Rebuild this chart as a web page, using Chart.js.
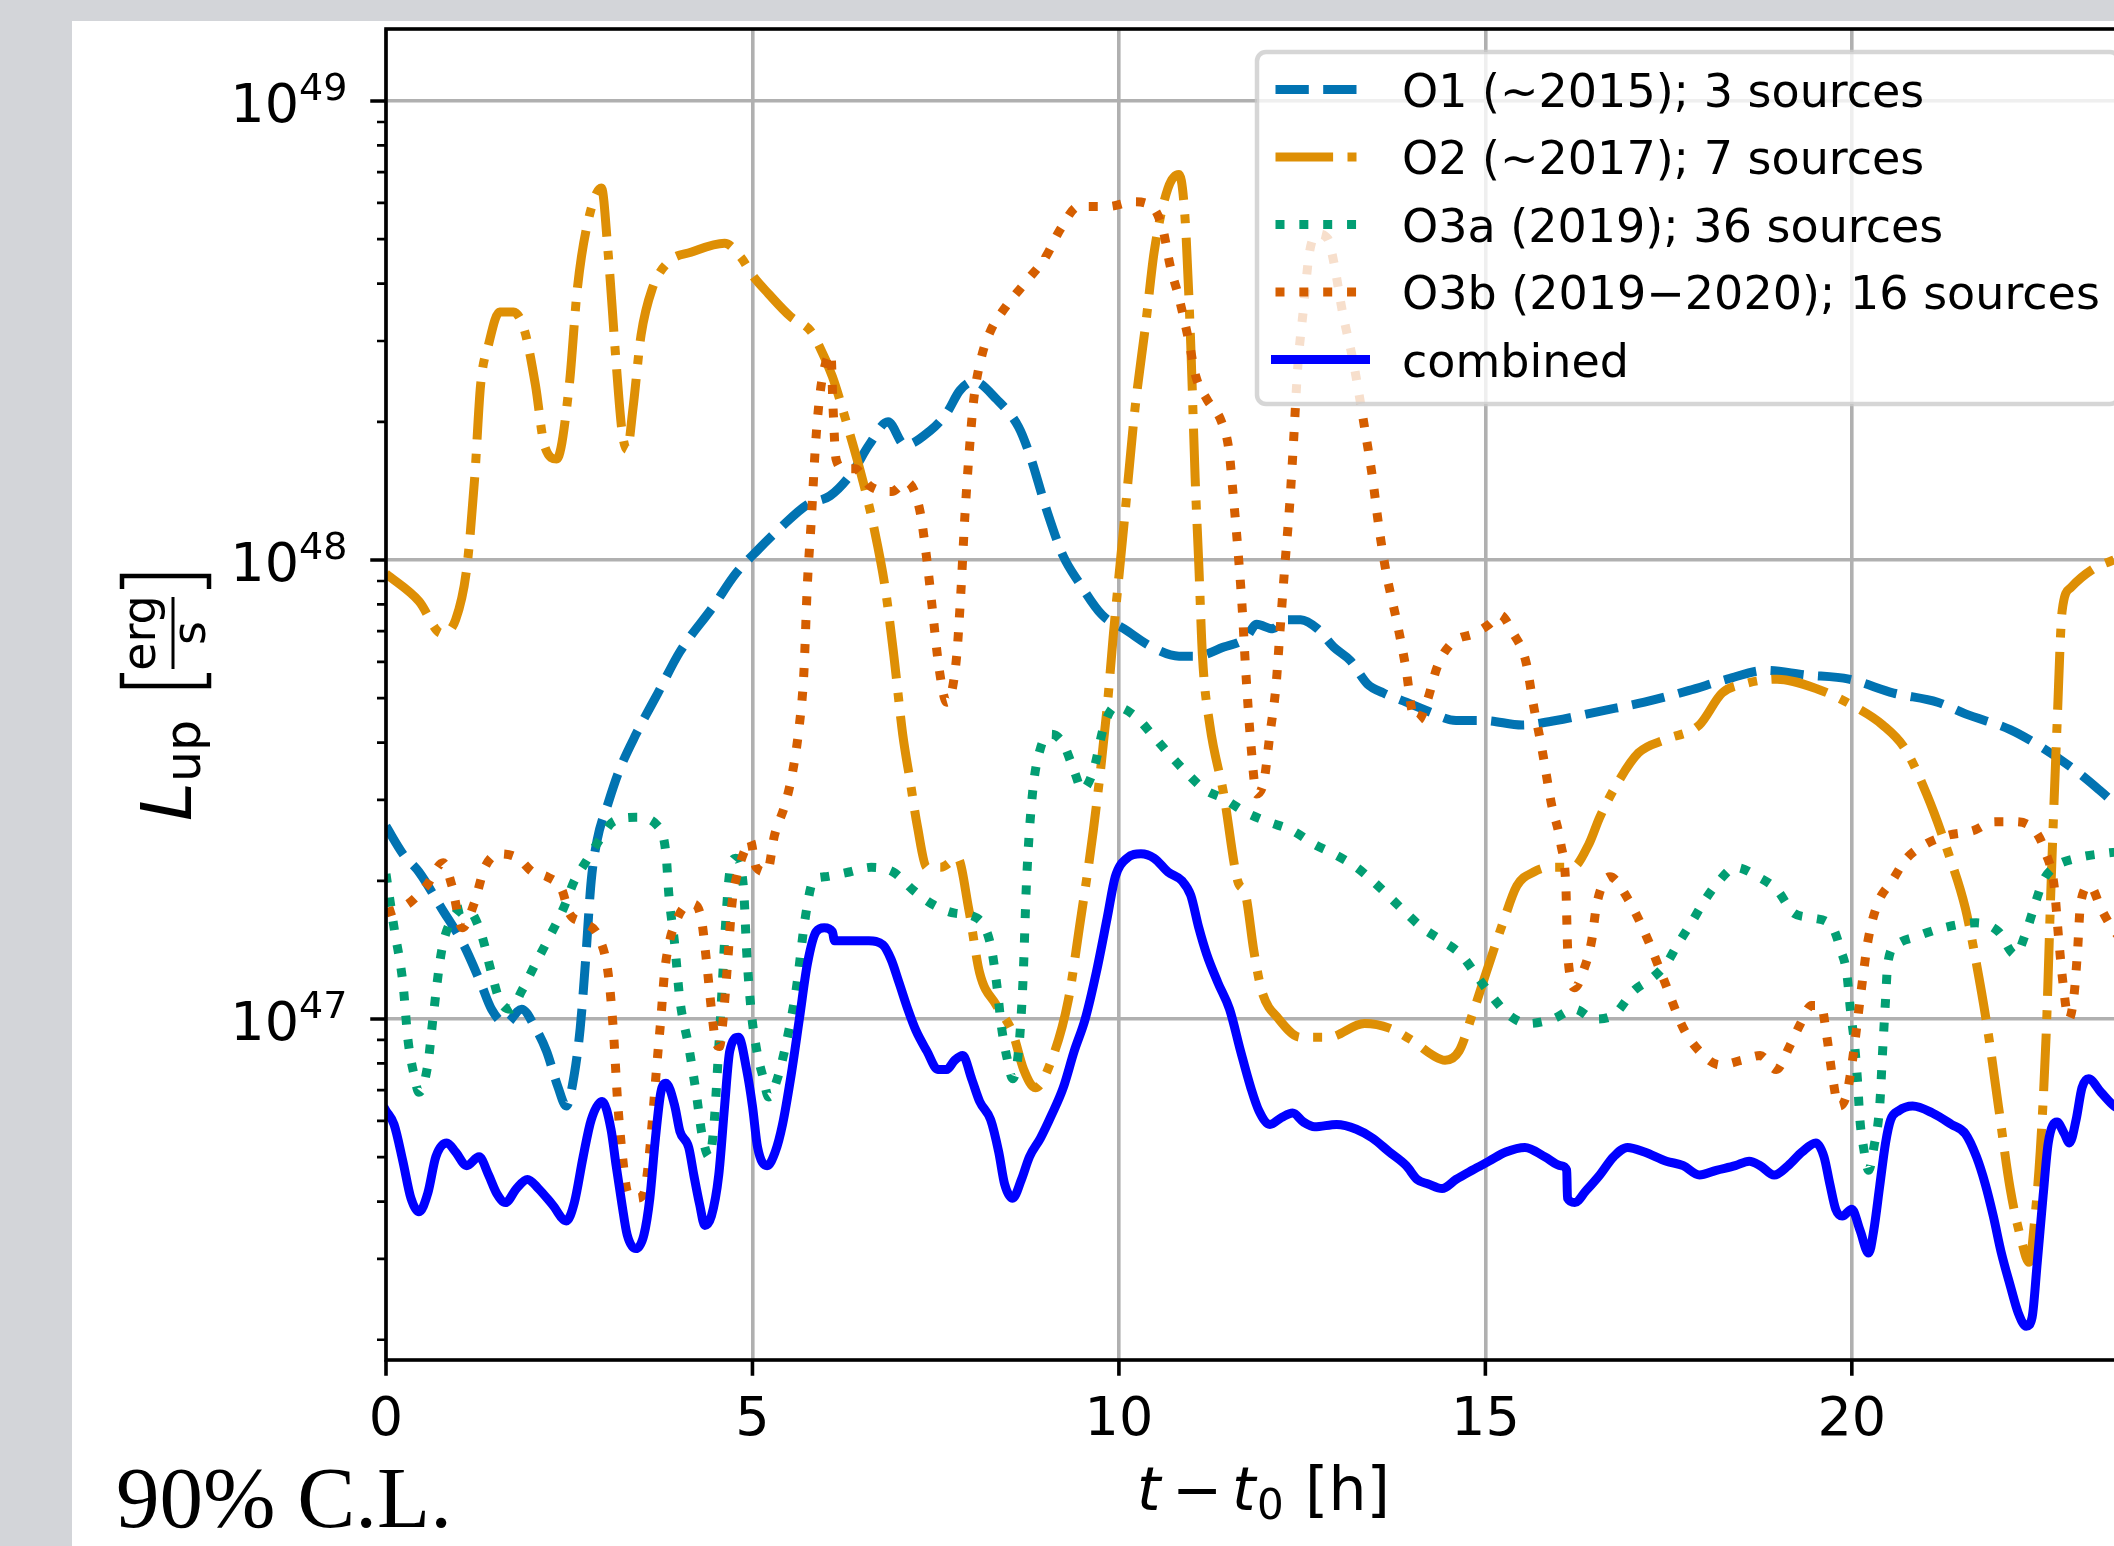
<!DOCTYPE html>
<html><head><meta charset="utf-8">
<script src="https://cdn.jsdelivr.net/npm/chart.js@4.4.1/dist/chart.umd.min.js"></script>
<style>
html,body{margin:0;padding:0;width:2114px;height:1546px;overflow:hidden;background:#d3d5d9;}
#fig{position:absolute;left:72px;top:21px;width:2200px;height:1600px;background:#ffffff;}
#c{position:absolute;left:0;top:0;}
</style></head><body>
<div id="fig"></div>
<canvas id="c" width="2200" height="1546"></canvas>
<script>
// ---------------- data (hours since t0, L_up in erg/s) ----------------
const seriesLabels = ['O1 (~2015); 3 sources','O2 (~2017); 7 sources','O3a (2019); 36 sources','O3b (2019\u22122020); 16 sources','combined'];
const xTickValues = [0,5,10,15,20];
const yMajorExponents = [47,48,49];
const yMinorMantissas = [2,3,4,5,6,7,8,9];

const o1Points = [[0,2.63e47],[0.23,2.29e47],[0.45,2.09e47],[0.76,1.74e47],[1.06,1.45e47],[1.29,1.20e47],[1.44,1.05e47],[1.63,9.77e46],[1.85,1.05e47],[2.04,9.55e46],[2.19,8.51e46],[2.35,7.08e46],[2.46,6.46e46],[2.57,7.59e46],[2.65,9.55e46],[2.72,1.32e47],[2.80,2.00e47],[2.88,2.45e47],[3.03,2.95e47],[3.18,3.47e47],[3.41,4.17e47],[3.71,5.13e47],[4.01,6.31e47],[4.47,7.94e47],[4.77,9.33e47],[5.07,1.05e48],[5.37,1.17e48],[5.75,1.32e48],[6.06,1.38e48],[6.36,1.55e48],[6.59,1.78e48],[6.85,2.00e48],[7.08,1.78e48],[7.42,1.91e48],[7.65,2.09e48],[7.83,2.34e48],[8.02,2.45e48],[8.33,2.24e48],[8.63,1.95e48],[8.78,1.70e48],[9.01,1.29e48],[9.24,1.02e48],[9.46,8.91e47],[9.77,7.59e47],[10.07,7.08e47],[10.45,6.46e47],[10.82,6.17e47],[11.05,6.17e47],[11.43,6.46e47],[11.73,6.76e47],[11.88,7.24e47],[12.10,7.08e47],[12.25,7.41e47],[12.48,7.41e47],[12.71,7.08e47],[12.93,6.46e47],[13.16,6.03e47],[13.39,5.37e47],[13.61,5.13e47],[13.92,4.90e47],[14.22,4.68e47],[14.60,4.47e47],[14.98,4.47e47],[15.50,4.37e47],[15.96,4.47e47],[16.56,4.68e47],[17.17,4.90e47],[17.77,5.19e47],[18.30,5.50e47],[18.83,5.75e47],[19.36,5.62e47],[19.96,5.50e47],[20.57,5.13e47],[21.17,4.90e47],[21.55,4.62e47],[22.16,4.27e47],[22.61,3.89e47],[23.06,3.47e47],[23.37,3.16e47],[23.58,2.95e47],[24,2.51e47]];

const o2Points = [[0,9.33e47],[0.45,8.13e47],[0.76,6.92e47],[0.95,7.41e47],[1.10,9.55e47],[1.21,1.51e48],[1.29,2.40e48],[1.40,2.95e48],[1.55,3.47e48],[1.74,3.47e48],[1.89,3.16e48],[2.04,2.40e48],[2.16,1.78e48],[2.33,1.66e48],[2.50,2.40e48],[2.61,3.89e48],[2.76,5.50e48],[2.94,6.46e48],[3.03,4.68e48],[3.14,2.69e48],[3.22,1.91e48],[3.29,1.74e48],[3.37,2.14e48],[3.48,3.09e48],[3.63,3.89e48],[3.86,4.47e48],[4.16,4.68e48],[4.62,4.90e48],[4.84,4.57e48],[5.00,4.17e48],[5.22,3.80e48],[5.52,3.39e48],[5.79,3.16e48],[5.90,2.95e48],[6.09,2.51e48],[6.28,2.00e48],[6.51,1.48e48],[6.66,1.17e48],[6.81,8.71e47],[6.93,6.17e47],[7.05,4.17e47],[7.15,3.31e47],[7.25,2.63e47],[7.38,2.14e47],[7.57,2.14e47],[7.80,2.24e47],[7.95,1.74e47],[8.10,1.26e47],[8.33,1.07e47],[8.55,9.33e46],[8.70,7.76e46],[8.86,7.08e46],[9.08,8.13e46],[9.31,1.10e47],[9.46,1.58e47],[9.65,2.57e47],[9.84,4.79e47],[9.92,6.76e47],[10.07,1.20e48],[10.22,2.14e48],[10.37,3.31e48],[10.48,4.68e48],[10.67,6.46e48],[10.82,6.92e48],[10.90,5.62e48],[10.98,2.95e48],[11.04,1.51e48],[11.09,9.77e47],[11.14,6.17e47],[11.24,4.37e47],[11.43,3.09e47],[11.62,2.00e47],[11.73,1.86e47],[11.84,1.41e47],[11.95,1.15e47],[12.18,1.00e47],[12.48,9.12e46],[12.86,9.12e46],[13.35,9.77e46],[13.69,9.55e46],[13.99,9.0e46],[14.29,8.32e46],[14.45,8.13e46],[14.64,8.51e46],[14.82,1.02e47],[15.01,1.26e47],[15.24,1.62e47],[15.43,1.95e47],[15.66,2.09e47],[15.88,2.14e47],[16.19,2.14e47],[16.41,2.40e47],[16.56,2.75e47],[16.79,3.24e47],[17.09,3.80e47],[17.47,4.07e47],[17.92,4.37e47],[18.23,5.13e47],[18.53,5.37e47],[18.98,5.50e47],[19.51,5.25e47],[20.04,4.79e47],[20.42,4.37e47],[20.72,3.89e47],[21.02,3.09e47],[21.32,2.29e47],[21.55,1.74e47],[21.70,1.32e47],[21.85,9.55e46],[22.00,6.46e46],[22.16,4.27e46],[22.31,3.31e46],[22.42,2.95e46],[22.50,3.72e46],[22.57,5.13e46],[22.65,9.12e46],[22.72,2.00e47],[22.80,4.37e47],[22.87,7.76e47],[22.99,8.71e47],[23.29,9.55e47],[23.58,1.00e48],[24,1.05e48]];

const o3aPoints = [[0,2.07e47],[0.11,1.58e47],[0.23,1.20e47],[0.30,9.0e46],[0.38,7.59e46],[0.45,6.92e46],[0.57,7.94e46],[0.64,1.0e47],[0.76,1.41e47],[0.91,1.66e47],[1.10,1.74e47],[1.29,1.55e47],[1.44,1.26e47],[1.55,1.10e47],[1.70,1.05e47],[1.85,1.15e47],[2.04,1.32e47],[2.23,1.51e47],[2.42,1.74e47],[2.57,2.00e47],[2.72,2.19e47],[2.91,2.45e47],[3.10,2.69e47],[3.41,2.75e47],[3.71,2.63e47],[3.82,2.29e47],[3.86,1.86e47],[3.94,1.45e47],[4.01,1.10e47],[4.13,8.71e46],[4.24,6.76e46],[4.31,5.62e46],[4.41,5.01e46],[4.47,5.75e46],[4.53,8.13e46],[4.58,1.12e47],[4.63,1.58e47],[4.69,2.09e47],[4.77,2.24e47],[4.88,1.91e47],[4.92,1.41e47],[4.98,1.05e47],[5.06,8.51e46],[5.15,7.41e46],[5.22,6.76e46],[5.34,7.41e46],[5.49,9.33e46],[5.60,1.17e47],[5.72,1.66e47],[5.83,2.00e47],[5.98,2.04e47],[6.32,2.09e47],[6.62,2.14e47],[6.92,2.09e47],[7.19,1.91e47],[7.45,1.78e47],[7.76,1.70e47],[8.06,1.66e47],[8.25,1.45e47],[8.33,1.20e47],[8.40,9.55e46],[8.48,8.13e46],[8.55,7.41e46],[8.63,8.51e46],[8.69,1.20e47],[8.74,2.00e47],[8.82,3.09e47],[8.93,3.89e47],[9.08,4.17e47],[9.24,3.98e47],[9.39,3.47e47],[9.50,3.16e47],[9.65,3.47e47],[9.80,4.37e47],[9.95,4.79e47],[10.22,4.57e47],[10.45,4.17e47],[10.67,3.80e47],[10.90,3.47e47],[11.17,3.16e47],[11.43,3.02e47],[11.73,2.82e47],[12.03,2.69e47],[12.37,2.57e47],[12.67,2.40e47],[12.93,2.29e47],[13.24,2.14e47],[13.46,2.0e47],[13.73,1.82e47],[13.92,1.70e47],[14.14,1.58e47],[14.41,1.48e47],[14.67,1.38e47],[14.90,1.23e47],[15.09,1.12e47],[15.32,1.02e47],[15.58,9.77e46],[15.92,1.0e47],[16.22,1.05e47],[16.49,1.0e47],[16.75,1.02e47],[17.02,1.15e47],[17.28,1.23e47],[17.47,1.32e47],[17.62,1.45e47],[17.81,1.62e47],[18.00,1.82e47],[18.19,2.0e47],[18.41,2.14e47],[18.72,2.04e47],[18.98,1.91e47],[19.21,1.70e47],[19.47,1.66e47],[19.74,1.58e47],[19.85,1.41e47],[19.93,1.26e47],[19.98,1.05e47],[20.04,8.71e46],[20.08,7.24e46],[20.11,6.03e46],[20.15,5.37e46],[20.23,4.68e46],[20.30,5.25e46],[20.38,6.46e46],[20.42,8.51e46],[20.46,1.10e47],[20.49,1.32e47],[20.61,1.45e47],[20.87,1.51e47],[21.25,1.58e47],[21.70,1.62e47],[22.00,1.55e47],[22.23,1.38e47],[22.38,1.55e47],[22.50,1.78e47],[22.61,2.0e47],[22.76,2.14e47],[23.06,2.24e47],[23.40,2.29e47],[24,2.34e47]];

const o3bPoints = [[0,1.70e47],[0.3,1.78e47],[0.55,1.95e47],[0.78,2.19e47],[0.9,1.95e47],[1.04,1.58e47],[1.2,1.78e47],[1.35,2.14e47],[1.55,2.29e47],[1.8,2.24e47],[2.0,2.09e47],[2.2,2.04e47],[2.4,1.91e47],[2.5,1.70e47],[2.7,1.62e47],[2.9,1.51e47],[3.03,1.26e47],[3.1,9.55e46],[3.16,6.61e46],[3.22,5.13e46],[3.3,4.17e46],[3.42,4.07e46],[3.52,4.17e46],[3.57,4.68e46],[3.63,5.89e46],[3.69,7.76e46],[3.75,1.0e47],[3.80,1.26e47],[3.87,1.48e47],[3.95,1.62e47],[4.05,1.74e47],[4.18,1.78e47],[4.30,1.66e47],[4.37,1.35e47],[4.44,1.05e47],[4.50,8.91e46],[4.55,8.71e46],[4.60,1.0e47],[4.66,1.32e47],[4.72,1.78e47],[4.80,2.09e47],[4.90,2.34e47],[4.97,2.45e47],[5.05,2.14e47],[5.20,2.09e47],[5.30,2.51e47],[5.45,2.95e47],[5.55,3.47e47],[5.64,4.37e47],[5.70,5.62e47],[5.75,8.91e47],[5.80,1.20e48],[5.86,1.78e48],[5.92,2.29e48],[6.00,2.69e48],[6.07,2.82e48],[6.10,2.14e48],[6.14,1.66e48],[6.25,1.58e48],[6.40,1.58e48],[6.60,1.45e48],[6.90,1.41e48],[7.10,1.48e48],[7.28,1.29e48],[7.38,1.0e48],[7.45,7.94e47],[7.55,5.75e47],[7.65,4.90e47],[7.78,6.03e47],[7.84,8.32e47],[7.90,1.26e48],[7.96,1.74e48],[8.02,2.24e48],[8.12,2.75e48],[8.25,3.16e48],[8.45,3.55e48],[8.75,4.07e48],[9.00,4.57e48],[9.20,5.25e48],[9.45,5.89e48],[9.85,5.89e48],[10.20,6.03e48],[10.45,5.89e48],[10.60,5.25e48],[10.70,4.37e48],[10.82,3.72e48],[10.95,3.02e48],[11.05,2.51e48],[11.20,2.24e48],[11.40,2.0e48],[11.50,1.74e48],[11.56,1.38e48],[11.62,1.07e48],[11.68,7.94e47],[11.73,5.75e47],[11.80,3.98e47],[11.88,3.09e47],[11.98,3.31e47],[12.06,4.17e47],[12.14,5.25e47],[12.20,7.08e47],[12.27,1.0e48],[12.33,1.32e48],[12.38,1.78e48],[12.44,2.63e48],[12.52,3.55e48],[12.60,4.68e48],[12.71,5.13e48],[12.85,5.01e48],[12.93,4.47e48],[13.05,3.47e48],[13.20,2.69e48],[13.35,1.95e48],[13.46,1.51e48],[13.55,1.17e48],[13.65,9.33e47],[13.80,7.24e47],[13.92,5.75e47],[14.00,4.68e47],[14.08,4.47e47],[14.20,4.90e47],[14.35,5.89e47],[14.55,6.61e47],[14.85,6.92e47],[15.05,7.24e47],[15.20,7.59e47],[15.38,6.92e47],[15.55,6.03e47],[15.66,4.79e47],[15.77,3.89e47],[15.90,2.95e47],[16.03,2.40e47],[16.10,1.91e47],[16.12,1.45e47],[16.16,1.23e47],[16.22,1.17e47],[16.35,1.29e47],[16.45,1.48e47],[16.52,1.78e47],[16.70,2.04e47],[16.95,1.82e47],[17.20,1.51e47],[17.45,1.20e47],[17.70,9.55e46],[17.92,8.51e46],[18.20,7.94e46],[18.50,8.13e46],[18.75,8.32e46],[18.97,7.76e46],[19.15,8.71e46],[19.30,9.77e46],[19.45,1.07e47],[19.58,1.07e47],[19.66,9.12e46],[19.74,7.41e46],[19.82,6.46e46],[19.92,6.76e46],[20.00,7.94e46],[20.08,1.0e47],[20.15,1.23e47],[20.22,1.48e47],[20.35,1.78e47],[20.55,2.0e47],[20.75,2.24e47],[21.00,2.40e47],[21.30,2.51e47],[21.65,2.57e47],[21.95,2.69e47],[22.20,2.69e47],[22.50,2.57e47],[22.65,2.29e47],[22.76,1.95e47],[22.82,1.51e47],[22.88,1.20e47],[22.96,1.0e47],[23.03,1.12e47],[23.08,1.41e47],[23.12,1.78e47],[23.25,1.95e47],[23.40,1.74e47],[23.55,1.58e47],[23.70,1.48e47],[24,1.41e47]];

const combinedPoints = [[0,6.31e46],[0.11,5.89e46],[0.23,4.90e46],[0.34,4.07e46],[0.45,3.80e46],[0.57,4.17e46],[0.68,5.01e46],[0.83,5.37e46],[0.95,5.13e46],[1.10,4.79e46],[1.27,5.01e46],[1.40,4.57e46],[1.51,4.17e46],[1.63,3.98e46],[1.78,4.27e46],[1.93,4.47e46],[2.08,4.27e46],[2.27,3.94e46],[2.46,3.63e46],[2.57,3.98e46],[2.69,5.01e46],[2.80,6.03e46],[2.95,6.61e46],[3.07,5.75e46],[3.14,4.79e46],[3.22,3.94e46],[3.29,3.39e46],[3.41,3.16e46],[3.52,3.39e46],[3.60,4.07e46],[3.67,5.37e46],[3.75,6.92e46],[3.82,7.24e46],[3.94,6.46e46],[4.01,5.69e46],[4.13,5.25e46],[4.20,4.57e46],[4.28,3.94e46],[4.35,3.55e46],[4.44,3.72e46],[4.54,4.57e46],[4.62,6.46e46],[4.69,8.51e46],[4.81,9.12e46],[4.92,7.76e46],[5.00,6.46e46],[5.07,5.25e46],[5.20,4.79e46],[5.31,5.13e46],[5.41,5.89e46],[5.53,7.59e46],[5.64,1.0e47],[5.75,1.32e47],[5.87,1.55e47],[5.98,1.58e47],[6.09,1.55e47],[6.12,1.48e47],[6.28,1.48e47],[6.59,1.48e47],[6.78,1.45e47],[6.89,1.35e47],[7.00,1.20e47],[7.12,1.05e47],[7.23,9.44e46],[7.38,8.51e46],[7.53,7.76e46],[7.65,7.76e46],[7.76,8.13e46],[7.87,8.32e46],[7.99,7.41e46],[8.10,6.61e46],[8.25,6.03e46],[8.36,5.13e46],[8.44,4.37e46],[8.55,4.07e46],[8.67,4.47e46],[8.78,5.01e46],[8.93,5.50e46],[9.08,6.17e46],[9.24,7.08e46],[9.39,8.51e46],[9.54,1.0e47],[9.69,1.26e47],[9.84,1.66e47],[9.95,2.04e47],[10.11,2.24e47],[10.30,2.29e47],[10.48,2.24e47],[10.67,2.09e47],[10.86,2.0e47],[10.98,1.86e47],[11.09,1.58e47],[11.20,1.38e47],[11.35,1.20e47],[11.51,1.05e47],[11.66,8.51e46],[11.80,7.08e46],[11.91,6.31e46],[12.06,5.89e46],[12.22,6.10e46],[12.37,6.24e46],[12.52,5.96e46],[12.67,5.82e46],[12.97,5.89e46],[13.24,5.75e46],[13.46,5.50e46],[13.69,5.13e46],[13.92,4.79e46],[14.07,4.47e46],[14.22,4.37e46],[14.41,4.27e46],[14.60,4.47e46],[14.82,4.68e46],[15.05,4.90e46],[15.28,5.13e46],[15.54,5.25e46],[15.81,5.01e46],[16.03,4.79e46],[16.11,4.68e46],[16.12,4.07e46],[16.22,3.98e46],[16.37,4.22e46],[16.56,4.57e46],[16.75,5.01e46],[16.94,5.25e46],[17.17,5.13e46],[17.47,4.90e46],[17.70,4.79e46],[17.92,4.57e46],[18.15,4.68e46],[18.41,4.79e46],[18.60,4.90e46],[18.75,4.79e46],[18.94,4.57e46],[19.13,4.79e46],[19.32,5.13e46],[19.51,5.37e46],[19.62,5.01e46],[19.70,4.37e46],[19.78,3.85e46],[19.87,3.72e46],[20.00,3.85e46],[20.11,3.47e46],[20.23,3.09e46],[20.30,3.47e46],[20.38,4.32e46],[20.46,5.37e46],[20.53,6.03e46],[20.64,6.31e46],[20.83,6.46e46],[21.10,6.24e46],[21.36,5.89e46],[21.55,5.62e46],[21.70,5.01e46],[21.82,4.37e46],[21.93,3.72e46],[22.04,3.09e46],[22.16,2.63e46],[22.27,2.29e46],[22.38,2.14e46],[22.46,2.24e46],[22.53,2.95e46],[22.61,4.12e46],[22.68,5.37e46],[22.80,5.96e46],[22.90,5.62e46],[22.97,5.37e46],[23.06,6.03e46],[23.14,7.08e46],[23.23,7.41e46],[23.40,6.92e46],[23.58,6.46e46],[24,6.03e46]];

// ---------------- styling ----------------
const LW = 9;
const toXY = pts => pts.map(p => ({x: p[0], y: p[1]}));
function ds(label, pts, color, dash, order){
  return {label, data: toXY(pts), borderColor: color, borderWidth: LW, borderDash: dash,
          borderCapStyle: dash.length ? 'butt' : 'square', borderJoinStyle: 'round',
          pointRadius: 0, fill: false, cubicInterpolationMode: 'monotone', order};
}
const datasets = [
  ds(seriesLabels[0], o1Points, '#0173b2', [33.3,14.4], 5),
  ds(seriesLabels[1], o2Points, '#de8f05', [57.6,14.4,9,14.4], 4),
  ds(seriesLabels[2], o3aPoints, '#029e73', [9,14.85], 3),
  ds(seriesLabels[3], o3bPoints, '#d55e00', [9,14.85], 2),
  ds(seriesLabels[4], combinedPoints, '#0000ff', [], 1)
];

const SANS = '"DejaVu Sans"';
const deco = {
  id: 'deco',
  afterDatasetsDraw(chart){
    const {ctx, chartArea: a, scales: {x, y}} = chart;
    ctx.save();
    // frame (spines)
    ctx.strokeStyle = '#000'; ctx.lineWidth = 3.6; ctx.setLineDash([]);
    ctx.strokeRect(a.left, a.top, a.right - a.left, a.bottom - a.top);
    // x ticks
    ctx.beginPath();
    xTickValues.forEach(v => { const px = x.getPixelForValue(v); ctx.moveTo(px, a.bottom); ctx.lineTo(px, a.bottom + 15.75); });
    ctx.stroke();
    // y major ticks
    ctx.beginPath();
    yMajorExponents.forEach(e => { const py = y.getPixelForValue(Math.pow(10, e)); ctx.moveTo(a.left - 15.75, py); ctx.lineTo(a.left, py); });
    ctx.stroke();
    // y minor ticks
    ctx.lineWidth = 2.7; ctx.beginPath();
    [46,47,48].forEach(e => yMinorMantissas.forEach(m => {
      const v = m * Math.pow(10, e);
      if (v < y.min || v > y.max) return;
      const py = y.getPixelForValue(v); ctx.moveTo(a.left - 9, py); ctx.lineTo(a.left, py);
    }));
    ctx.stroke();

    // legend
    const bx = 1257, by = 52, bw = 862, bh = 352;
    ctx.beginPath(); ctx.roundRect(bx, by, bw, bh, 9);
    ctx.fillStyle = 'rgba(255,255,255,0.8)'; ctx.fill();
    ctx.strokeStyle = 'rgba(204,204,204,0.8)'; ctx.lineWidth = 4.5; ctx.stroke();
    chart.data.datasets.forEach((d, i) => {
      const base = 106.5 + i * 67.5, ly = base - 17;
      ctx.setLineDash(d.borderDash);
      ctx.lineCap = d.borderCapStyle;
      ctx.strokeStyle = d.borderColor; ctx.lineWidth = d.borderWidth;
      ctx.beginPath(); ctx.moveTo(1275.5, ly); ctx.lineTo(1365.5, ly); ctx.stroke();
      ctx.setLineDash([]);
      ctx.fillStyle = '#000'; ctx.font = '46px ' + SANS; ctx.textAlign = 'left'; ctx.textBaseline = 'alphabetic';
      ctx.fillText(d.label, 1402, base);
    });
    ctx.restore();
  },
  afterDraw(chart){
    const {ctx, chartArea: a, scales: {x, y}} = chart;
    ctx.save();
    ctx.fillStyle = '#000'; ctx.textBaseline = 'alphabetic';
    // x tick labels
    ctx.font = '54px ' + SANS; ctx.textAlign = 'center';
    xTickValues.forEach(v => ctx.fillText(String(v), x.getPixelForValue(v), 1435));
    // y tick labels 10^e
    yMajorExponents.forEach(e => {
      const py = y.getPixelForValue(Math.pow(10, e));
      ctx.font = '54px ' + SANS; ctx.textAlign = 'right'; ctx.fillText('10', 299, py + 21);
      ctx.font = '38px ' + SANS; ctx.textAlign = 'left'; ctx.fillText(String(e), 299, py - 1);
    });
    // x axis label: t − t0 [h]
    ctx.textAlign = 'left';
    ctx.font = 'italic 60px ' + SANS; ctx.fillText('t', 1137, 1510);
    ctx.font = '60px ' + SANS; ctx.fillText('\u2212', 1172, 1510);
    ctx.font = 'italic 60px ' + SANS; ctx.fillText('t', 1232, 1510);
    ctx.font = '42px ' + SANS; ctx.fillText('0', 1257, 1519);
    ctx.font = '60px ' + SANS; ctx.fillText('[h]', 1305, 1510);
    // y axis label: L_up [erg/s]
    ctx.save();
    ctx.translate(191, 817); ctx.rotate(-Math.PI / 2);
    ctx.font = 'italic 70px ' + SANS; ctx.fillText('L', -4, 0);
    ctx.font = '49px ' + SANS; ctx.fillText('up', 35, 9);
    ctx.strokeStyle = '#000'; ctx.lineWidth = 4.5; ctx.lineCap = 'butt'; ctx.lineJoin = 'miter';
    ctx.beginPath(); ctx.moveTo(144, -69); ctx.lineTo(131, -69); ctx.lineTo(131, 18); ctx.lineTo(144, 18); ctx.stroke();
    ctx.beginPath(); ctx.moveTo(228, -69); ctx.lineTo(241, -69); ctx.lineTo(241, 18); ctx.lineTo(228, 18); ctx.stroke();
    ctx.lineWidth = 3; ctx.beginPath(); ctx.moveTo(148, -18); ctx.lineTo(220, -18); ctx.stroke();
    ctx.font = '46px ' + SANS; ctx.textAlign = 'center';
    ctx.fillText('erg', 184, -36);
    ctx.fillText('s', 184, 14);
    ctx.restore();
    // confidence level note
    ctx.font = '87px "Liberation Serif"'; ctx.textAlign = 'left';
    ctx.fillText('90% C.L.', 116, 1527);
    ctx.restore();
  }
};

new Chart(document.getElementById('c'), {
  type: 'line',
  data: { datasets },
  options: {
    responsive: false, animation: false, devicePixelRatio: 1, events: [],
    layout: { padding: { left: 0, top: 29, right: 55, bottom: 0 } },
    plugins: { legend: { display: false }, tooltip: { enabled: false } },
    scales: {
      x: {
        type: 'linear', min: 0, max: 24,
        afterBuildTicks: s => { s.ticks = xTickValues.map(v => ({value: v})); },
        afterFit: s => { s.height = 186; },
        ticks: { display: false },
        grid: { color: '#b0b0b0', lineWidth: 3.6, drawTicks: false },
        border: { display: false }
      },
      y: {
        type: 'logarithmic', min: 1.807e46, max: 1.435e49,
        afterBuildTicks: s => { s.ticks = yMajorExponents.map(e => ({value: Math.pow(10, e), major: true})); },
        afterFit: s => { s.width = 386; },
        ticks: { display: false },
        grid: { color: '#b0b0b0', lineWidth: 3.6, drawTicks: false },
        border: { display: false }
      }
    }
  },
  plugins: [deco]
});
</script></body></html>
